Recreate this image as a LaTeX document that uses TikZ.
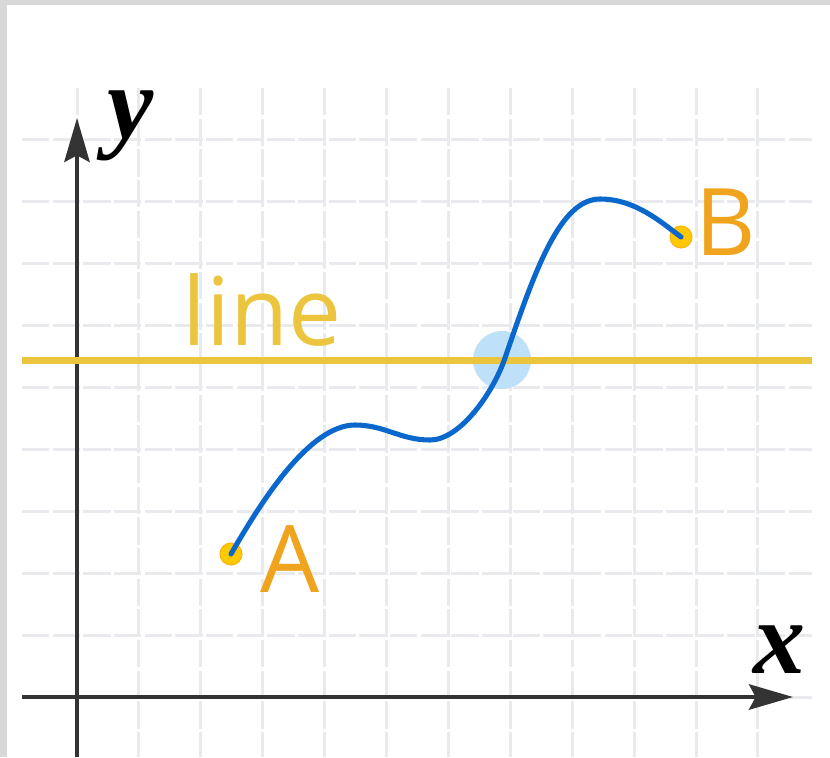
\documentclass[tikz,border=0pt]{standalone}
\usepackage{fontspec}
\setmainfont{Liberation Serif}
\newfontfamily\labelfont{Open Sans}
\usepackage{tikz}
\usetikzlibrary{arrows.meta}

\definecolor{gridgray}{HTML}{E9EAED}
\definecolor{axisdark}{HTML}{333333}
\definecolor{lineyellow}{HTML}{ECC53E}
\definecolor{ptorange}{HTML}{F0A31C}
\definecolor{dotyellow}{HTML}{FFC800}
\definecolor{curveblue}{HTML}{0A68CC}
\definecolor{hitblue}{HTML}{BEE0F8}
\definecolor{edgegray}{HTML}{D8D8D8}

\begin{document}
\begin{tikzpicture}[x=0.75pt,y=-0.75pt,
  gridline/.style={gridgray,line width=2.25pt,dash pattern=on 20.5pt off 2.5pt},
  axis/.style={axisdark,line width=3pt,-{Stealth[length=33pt,width=19pt,inset=5pt]}},
  curve/.style={curveblue,line width=3.8pt,line cap=round},
  dot/.style={circle,fill=dotyellow,draw=ptorange!50!dotyellow,line width=0.8pt,minimum size=16.5pt,inner sep=0pt},
  ptlabel/.style={ptorange,font=\labelfont\fontsize{70}{70}\selectfont,inner sep=0pt,anchor=base},
  axlabel/.style={font=\fontsize{78}{78}\selectfont\bfseries\itshape,inner sep=0pt,anchor=base}
]
% Paper
\fill[edgegray] (0,0) rectangle (830,757);
\fill[white] (7,5) rectangle (830,757);
\useasboundingbox (0,0) rectangle (830,757);
% Grid
\foreach \i in {0,...,11} \draw[gridline] ({77+61.9*\i},88) -- ({77+61.9*\i},757);
\foreach \j in {0,...,9} \draw[gridline] (22,{697-61.9*\j}) -- (812,{697-61.9*\j});
% Axes
\coordinate (o) at (77,757);
\coordinate (yt) at (77,118);
\coordinate (xs) at (22,697);
\coordinate (xt) at (793,697);
\draw[axis] (o) -- (yt);
\draw[axis] (xs) -- (xt);
\node[axlabel] (ylab) at (131,138) {y};
\node[axlabel] (xlab) at (779,673) {x};
% Line
\node[circle,fill=hitblue,minimum size=43.5pt,inner sep=0pt] (hit) at (502,360) {};
\coordinate (l0) at (22,360);
\coordinate (l1) at (812,360);
\draw[lineyellow,line width=5.25pt] (l0) -- (l1);
\node[ptlabel,lineyellow,font=\labelfont\fontsize{71}{71}\selectfont] (lbl) at (262,345) {line};
% Points
\node[dot] (a) at (231,554) {};
\node[dot] (b) at (681,237) {};
\node[ptlabel] (la) at (290,592) {A};
\node[ptlabel] (lb) at (726,255) {B};
\draw[curve] (a.center) .. controls (262,500) and (310,425) .. (355,425)
  .. controls (385,425) and (400,440) .. (430,440)
  .. controls (460,440) and (493,393) .. (505,358)
  .. controls (535,270) and (560,199) .. (600,199)
  .. controls (635,199) and (661,222) .. (b.center);
\end{tikzpicture}
\end{document}
